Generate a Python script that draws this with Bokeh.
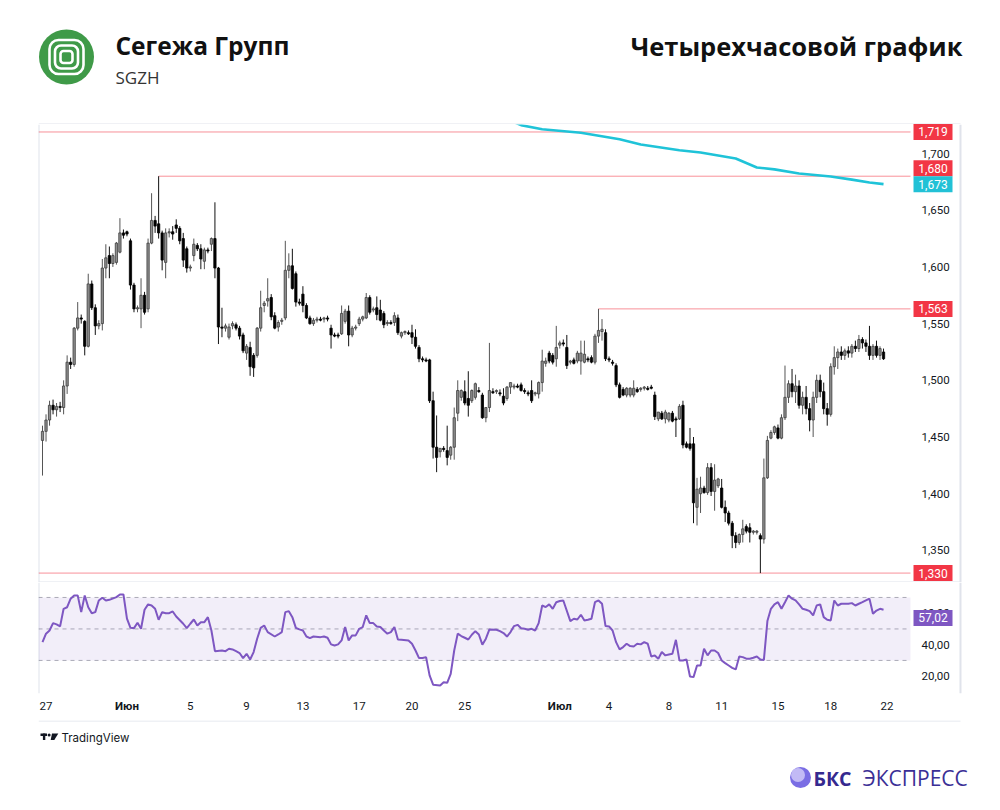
from bokeh.plotting import figure
from bokeh.layouts import column
from bokeh.models import ColumnDataSource, Range1d, FixedTicker, BoxAnnotation, LinearAxis
from bokeh.embed import file_html
from bokeh.resources import INLINE
from bokeh.core.properties import value

# ---------------- data (4h candles, SGZH) ----------------
opens = [1447,1455,1465,1478,1474,1477,1476,1495,1516,1514,1546,1555,1552,1530,1585,1564,1548,1550,1599,1610,
         1603,1604,1613,1630,1631,1623,1584,1563,1563,1575,1563,1621,1641,1638,1630,1604,1630,1631,1637,1634,
         1625,1616,1599,1610,1619,1616,1605,1615,1620,1625,1599,1547,1546,1538,1548,1549,1546,1540,1524,1529,
         1522,1522,1546,1566,1570,1573,1557,1547,1552,1555,1597,1601,1594,1569,1576,1566,1555,1550,1553,1554,
         1554,1555,1546,1540,1540,1541,1552,1561,1540,1546,1550,1554,1555,1573,1562,1564,1562,1559,1550,1551,
         1551,1555,1539,1542,1542,1542,1538,1529,1519,1518,1518,1482,1441,1437,1440,1438,1434,1441,1471,1485,
         1490,1484,1482,1485,1491,1487,1467,1476,1490,1490,1489,1486,1484,1494,1494,1495,1496,1491,1489,1491,
         1488,1488,1498,1515,1524,1522,1519,1531,1533,1529,1516,1518,1517,1517,1516,1519,1520,1516,1539,1543,
         1542,1519,1516,1513,1496,1492,1487,1487,1487,1492,1492,1493,1493,1494,1487,1466,1471,1466,1465,1471,
         1466,1466,1478,1444,1444,1444,1388,1400,1405,1401,1423,1402,1407,1405,1388,1383,1374,1363,1357,1364,
         1371,1370,1366,1366,1363,1360,1414,1449,1454,1458,1449,1467,1485,1497,1490,1495,1478,1485,1475,1465,
         1485,1500,1490,1475,1470,1512,1520,1525,1522,1526,1524,1530,1528,1536,1533,1530,1522,1530,1522,1525]
highs = [1460,1470,1482,1483,1480,1481,1500,1522,1520,1547,1569,1558,1553,1594,1588,1567,1553,1607,1620,1618,
         1612,1622,1643,1633,1632,1625,1586,1566,1590,1578,1625,1665,1645,1680,1632,1634,1634,1636,1642,1636,
         1630,1618,1602,1625,1621,1620,1617,1617,1626,1657,1600,1564,1550,1550,1552,1551,1548,1542,1532,1534,
         1524,1547,1579,1570,1590,1576,1560,1553,1555,1623,1612,1616,1596,1572,1583,1568,1557,1555,1556,1556,
         1556,1557,1549,1542,1542,1566,1563,1566,1548,1549,1556,1557,1577,1575,1565,1574,1571,1561,1553,1553,
         1560,1558,1543,1544,1544,1549,1545,1531,1521,1520,1519,1490,1469,1440,1442,1460,1442,1476,1500,1492,
         1500,1508,1492,1498,1494,1489,1476,1533,1493,1492,1492,1493,1495,1498,1497,1497,1498,1493,1491,1500,
         1490,1499,1527,1520,1526,1524,1548,1535,1536,1540,1518,1520,1526,1535,1535,1521,1522,1541,1563,1554,
         1545,1521,1518,1515,1498,1494,1494,1494,1500,1494,1494,1495,1495,1496,1490,1472,1473,1474,1472,1473,
         1468,1479,1482,1446,1458,1450,1414,1415,1407,1427,1427,1426,1414,1413,1394,1385,1376,1366,1365,1377,
         1373,1374,1368,1368,1365,1431,1451,1456,1460,1461,1470,1513,1500,1510,1505,1500,1490,1495,1480,1490,
         1505,1505,1498,1480,1515,1530,1528,1530,1528,1530,1532,1535,1540,1538,1536,1548,1532,1535,1530,1528]
lows = [1416,1446,1460,1470,1468,1472,1470,1488,1510,1512,1544,1550,1522,1529,1562,1540,1545,1544,1590,1590,
        1600,1602,1612,1625,1627,1580,1560,1560,1546,1558,1560,1620,1630,1625,1597,1590,1626,1624,1630,1620,
        1600,1595,1596,1605,1614,1598,1598,1612,1614,1590,1532,1538,1543,1536,1545,1544,1536,1524,1518,1504,
        1503,1520,1543,1560,1565,1553,1545,1543,1549,1553,1590,1580,1565,1566,1560,1554,1549,1548,1551,1552,
        1551,1552,1528,1538,1537,1540,1550,1530,1538,1544,1548,1552,1554,1558,1560,1553,1552,1546,1548,1549,
        1548,1540,1537,1540,1540,1532,1528,1516,1516,1516,1480,1431,1419,1432,1437,1425,1430,1430,1464,1482,
        1478,1468,1480,1483,1489,1466,1463,1472,1488,1488,1486,1478,1482,1488,1492,1493,1490,1488,1486,1480,
        1486,1484,1490,1512,1515,1514,1512,1528,1530,1510,1514,1514,1515,1505,1515,1516,1515,1514,1533,1535,
        1517,1516,1513,1494,1484,1486,1485,1485,1485,1489,1490,1491,1491,1492,1465,1464,1465,1462,1463,1463,
        1450,1465,1440,1440,1438,1374,1372,1383,1400,1399,1398,1385,1405,1387,1375,1372,1352,1352,1355,1357,
        1365,1357,1364,1364,1330,1356,1413,1448,1452,1448,1448,1465,1480,1485,1480,1475,1470,1470,1455,1450,
        1480,1485,1470,1460,1468,1505,1510,1518,1518,1520,1520,1525,1525,1528,1525,1518,1518,1520,1518,1518]
closes = [1455,1465,1478,1474,1477,1476,1495,1516,1514,1546,1555,1554,1530,1585,1564,1548,1550,1599,1608,1603,
          1610,1621,1630,1628,1629,1584,1563,1564,1575,1560,1621,1641,1636,1630,1606,1630,1631,1629,1634,1623,
          1606,1599,1600,1620,1616,1607,1615,1614,1625,1599,1547,1546,1548,1547,1550,1546,1539,1526,1530,1512,
          1511,1546,1564,1568,1572,1556,1546,1551,1553,1597,1601,1581,1569,1568,1566,1555,1550,1553,1554,1553,
          1555,1554,1540,1539,1539,1559,1561,1540,1546,1547,1554,1556,1573,1560,1563,1558,1553,1549,1551,1550,
          1557,1542,1542,1543,1541,1538,1530,1519,1518,1517,1482,1441,1432,1440,1439,1432,1441,1467,1491,1491,
          1480,1478,1491,1497,1490,1467,1476,1491,1489,1491,1488,1480,1494,1498,1495,1494,1491,1490,1488,1482,
          1489,1498,1517,1517,1517,1516,1529,1533,1532,1513,1517,1515,1524,1524,1523,1518,1516,1539,1544,1545,
          1519,1518,1515,1496,1485,1487,1493,1493,1493,1490,1493,1494,1492,1493,1468,1472,1466,1472,1471,1464,
          1465,1477,1443,1441,1440,1392,1404,1405,1401,1423,1402,1412,1413,1388,1383,1374,1363,1357,1364,1369,
          1367,1366,1367,1367,1360,1414,1447,1454,1459,1449,1467,1485,1497,1490,1495,1478,1485,1475,1465,1485,
          1500,1490,1475,1470,1512,1520,1525,1522,1526,1524,1530,1528,1536,1533,1530,1522,1530,1522,1528,1519]
bars = list(range(len(closes)))

rsi_bar = [0,1,2,3,4,5,6,7,8,9,10,11,12,13,14,15,16,17,18,19,21,22,23,24,25,26,27,28,29,30,31,32,33,34,35,36,37,38,
           40,41,42,43,44,45,46,47,48,49,51,52,53,54,55,56,57,58,59,60,61,62,63,64,66,67,68,69,70,71,72,73,74,75,
           76,77,79,80,81,82,83,84,85,86,87,88,89,90,91,92,93,94,95,96,97,98,99,100,101,102,104,105,106,107,108,
           109,110,111,113,114,115,116,117,118,119,120,121,122,123,124,125,126,127,129,130,131,132,133,134,135,
           136,137,138,139,140,141,142,143,144,145,146,147,148,150,151,152,153,154,155,156,157,158,159,160,161,
           162,163,164,165,166,167,168,169,170,171,172,173,174,175,176,177,178,179,180,181,182,183,184,185,186,
           187,188,189,190,191,192,193,194,195,196,197,198,199,200,201,202,203,204,205,206,207,208,209,210,211,
           212,213,214,215,216,217,218,219,220,221,222,223,224,225,226,227,228,229,230,231,232,233,234,235,236,
           237,238,239]
rsi_val = [41.6,47.0,49.0,53.7,52.9,51.6,62.8,63.8,69.2,71.3,71.3,60.7,71.3,63.8,60.0,60.7,68.1,69.8,68.1,68.5,
           70.2,71.9,71.9,56.5,50.7,50.5,53.9,50.1,62.2,65.6,64.9,62.8,55.8,60.7,60.0,60.0,61.1,57.9,
           53.3,50.5,53.3,56.0,52.2,54.3,54.3,57.5,49.0,35.9,36.3,35.9,37.4,37.0,35.9,34.7,31.5,34.2,30.6,35.3,
           43.8,50.7,52.2,48.0,45.2,46.5,48.0,60.7,61.3,57.5,50.7,49.7,49.0,45.2,
           44.2,45.2,44.8,45.2,44.4,40.2,39.5,40.2,42.7,51.2,42.7,45.9,45.9,50.1,51.2,58.6,53.7,53.7,51.6,51.2,
           49.0,47.0,48.0,51.2,43.3,43.1,42.7,40.6,36.3,31.5,31.5,32.1,20.5,14.6,14.1,16.2,15.8,21.5,36.3,47.0,
           45.5,44.4,43.3,46.3,48.6,46.5,40.0,43.8,49.7,49.5,48.6,47.4,45.2,48.0,51.8,52.6,50.5,50.1,49.5,50.1,
           49.0,53.7,64.9,63.9,65.6,62.8,67.0,67.7,68.1,55.0,56.5,56.0,59.0,55.4,55.8,56.5,67.0,68.1,66.0,51.8,
           51.6,49.0,41.6,37.0,38.5,40.6,39.1,38.9,40.6,40.2,41.6,40.6,32.5,33.2,31.1,35.3,33.2,33.8,34.2,43.1,
           30.0,30.0,30.6,19.8,19.4,26.8,26.8,37.4,33.2,36.3,36.3,34.7,30.0,28.3,26.8,25.3,24.3,32.5,32.1,31.1,
           31.1,31.7,32.5,30.6,30.3,55.0,62.8,65.6,67.0,62.8,67.0,71.3,69.2,68.1,65.6,62.8,62.2,61.3,58.6,64.9,
           65.6,57.5,55.8,55.4,68.1,64.9,66.0,66.0,66.0,66.4,64.9,66.0,67.0,68.1,69.2,59.6,61.7,62.8,62.2,57.02]

ma_bar = [133,136,142,153,164,170,181,187,197,203,208,215,224,230,235,239]
ma_val = [1729,1725,1721.4,1718.3,1712.6,1707.9,1702.9,1700.9,1695.6,1687.7,1686,1682.4,1679.7,1677,1674.4,1673]

level_price = [1719, 1680, 1563, 1330]
level_from_bar = [None, 33, 158, None]

day_tick_bars = [1, 42, 58, 74, 90, 105, 120, 161, 178, 193, 209, 224, 240]
day_tick_labels = ["27", "5", "9", "13", "17", "20", "25", "4", "8", "11", "15", "18", "22"]
month_tick_bars = [24, 147]
month_tick_labels = ["Июн", "Июл"]
price_ticks = [1350, 1400, 1450, 1500, 1550, 1600, 1650, 1700]
rsi_ticks = [20, 40, 60]
rsi_levels = [70, 50, 30]

# ---------------- layout constants (bar-index space) ----------------
W = 1000
X_START, X_END = -1.137, 272.24       # frame spans the card width right of the left margin
PANE_END = 246.66                      # right edge of the plotting pane (price scale starts there)
BORDER_X = 260.87                      # right border of the chart block
TAG_X = 253.06                         # centre of the price tags
AX_FONT = "Roboto"
RED = "#f23645"
GRID_C = "#e0e3eb"
XR = Range1d(X_START, X_END)


def bare(fig):
    fig.grid.visible = False
    fig.outline_line_color = None


def tag(fig, y, txt, bg, shift=0.0):
    fig.rect(x=[TAG_X], y=[y + shift], width=39, height=16, width_units="screen",
             height_units="screen", fill_color=bg, line_color=None, level="overlay")
    fig.text(x=[TAG_X], y=[y + shift], text=[txt], text_align="center", text_baseline="middle",
             text_color="white", text_font=value(AX_FONT), text_font_size="12px",
             level="overlay")


def style_axis(ax, standoff):
    ax.axis_line_color = None
    ax.major_tick_line_color = None
    ax.minor_tick_line_color = None
    ax.major_tick_out = 0
    ax.major_tick_in = 0
    ax.major_label_standoff = standoff
    ax.major_label_text_font = AX_FONT
    ax.major_label_text_font_size = "11.5px"
    ax.major_label_text_color = "#131722"


# ---------------- header ----------------
hdr = figure(width=W, height=124, x_range=Range1d(38, 1000), y_range=Range1d(124, 0),
             toolbar_location=None, output_backend="svg", x_axis_location=None,
             y_axis_location=None, min_border_left=38, min_border_right=0,
             min_border_top=0, min_border_bottom=0)
bare(hdr)
hdr.circle(x=[66], y=[56.5], radius=27.5, fill_color="#3f9a48", line_color=None)
for sz, rad in [(34, 9), (23, 6), (12, 3)]:
    try:
        hdr.rect(x=[66], y=[56.5], width=sz, height=sz, fill_alpha=0, line_color="white",
                 line_width=2.6, border_radius=rad)
    except Exception:
        hdr.circle(x=[66], y=[56.5], radius=sz / 2, fill_alpha=0, line_color="white", line_width=2.6)
hdr.text(x=[115], y=[45], text=["Сегежа Групп"], text_font=value("Open Sans"), text_font_style="bold",
         text_font_size="24.5px", text_baseline="middle", text_color="#111111")
hdr.text(x=[115], y=[77], text=["SGZH"], text_font=value("Open Sans"), text_font_size="17px",
         text_baseline="middle", text_color="#333333")
hdr.text(x=[962], y=[45], text=["Четырехчасовой график"], text_font=value("Open Sans"),
         text_font_style="bold", text_font_size="25.5px", text_baseline="middle", text_align="right",
         text_color="#111111")
hdr.segment(x0=[38], x1=[960], y0=[123.5], y1=[123.5], line_color=GRID_C, line_width=1)

# ---------------- main price pane ----------------
p = figure(width=W, height=458, x_range=XR, y_range=Range1d(1321.7, 1725.6),
           toolbar_location=None, output_backend="svg", x_axis_location=None,
           y_axis_location="right", min_border_left=38, min_border_right=0,
           min_border_top=0, min_border_bottom=0)
bare(p)
p.yaxis.ticker = FixedTicker(ticks=price_ticks)
p.yaxis.major_label_overrides = {t: f"{t:,}" for t in price_ticks}
style_axis(p.yaxis, -79)

up = [c >= o for o, c in zip(opens, closes)]
src = ColumnDataSource(dict(
    i=bars, h=highs, l=lows,
    top=[max(o, c) for o, c in zip(opens, closes)],
    bottom=[min(o, c) for o, c in zip(opens, closes)],
    fill=["#8f8f8f" if u else "#000000" for u in up],
    line=["#3c3c3c" if u else "#000000" for u in up],
    wick=["#555555" if u else "#111111" for u in up],
))

# chart-block borders
p.segment(x0=[X_START, BORDER_X], x1=[X_START, BORDER_X], y0=[1321.7, 1321.7], y1=[1725.6, 1725.6],
          line_color=GRID_C, line_width=2)
p.segment(x0=[X_START], x1=[BORDER_X], y0=[1321.7], y1=[1321.7], line_color=GRID_C, line_width=2)

for lp, lb in zip(level_price, level_from_bar):
    p.segment(x0=[X_START if lb is None else lb], x1=[PANE_END], y0=[lp], y1=[lp],
              line_color=RED, line_alpha=0.55, line_width=1)

p.segment(x0="i", y0="l", x1="i", y1="h", line_color="wick", line_width=1, source=src)
p.vbar(x="i", width=0.65, top="top", bottom="bottom", fill_color="fill", line_color="line",
       line_width=0.8, source=src)
p.line(ma_bar, ma_val, line_color="#1fc3d8", line_width=2.6)

tag(p, 1719, f"{1719:,}", RED)
tag(p, 1680, f"{1680:,}", RED, 7.0)
tag(p, ma_val[-1], f"{ma_val[-1]:,.0f}", "#22c1d6")
tag(p, 1563, f"{1563:,}", RED)
tag(p, 1330, f"{1330:,}", RED)

# ---------------- RSI pane ----------------
r = figure(width=W, height=138, x_range=XR, y_range=Range1d(9.0, 79.5),
           toolbar_location=None, output_backend="svg", y_axis_location="right",
           x_axis_location="below", min_border_left=38, min_border_right=0,
           min_border_top=0, min_border_bottom=27)
bare(r)
r.segment(x0=[X_START, BORDER_X], x1=[X_START, BORDER_X], y0=[9.0, 9.0], y1=[79.5, 79.5],
          line_color=GRID_C, line_width=2)
r.add_layout(BoxAnnotation(bottom=30, top=70, right=PANE_END, fill_color="#7e57c2", fill_alpha=0.1,
                           line_color=None))
r.segment(x0=[X_START] * 3, x1=[PANE_END] * 3, y0=rsi_levels, y1=rsi_levels, line_color="#787b86",
          line_alpha=0.6, line_dash="4 4", line_width=1)
r.line(rsi_bar, rsi_val, line_color="#7e57c2", line_width=2)
r.yaxis.ticker = FixedTicker(ticks=rsi_ticks)
r.yaxis.major_label_overrides = {t: f"{t:.2f}".replace(".", ",") for t in rsi_ticks}
r.xaxis.ticker = FixedTicker(ticks=day_tick_bars)
r.xaxis.major_label_overrides = {b: s for b, s in zip(day_tick_bars, day_tick_labels)}
style_axis(r.yaxis, -79)
style_axis(r.xaxis, 8)

# month names in bold, on a second axis pulled up onto the same text line
month_axis = LinearAxis(ticker=FixedTicker(ticks=month_tick_bars),
                        major_label_overrides={b: s for b, s in zip(month_tick_bars, month_tick_labels)})
style_axis(month_axis, -14)
month_axis.major_label_text_font_style = "bold"
r.add_layout(month_axis, "below")

tag(r, rsi_val[-1], f"{rsi_val[-1]:.2f}".replace(".", ","), "#7e57c2")

# ---------------- footer ----------------
ftr = figure(width=W, height=90, x_range=Range1d(38, 1000), y_range=Range1d(810, 720),
             toolbar_location=None, output_backend="svg", x_axis_location=None,
             y_axis_location=None, min_border_left=38, min_border_right=0,
             min_border_top=0, min_border_bottom=0)
bare(ftr)
ftr.segment(x0=[38], x1=[960], y0=[720.5], y1=[720.5], line_color=GRID_C, line_width=1)
ftr.quad(left=[40], right=[46.5], top=[733], bottom=[735.6], fill_color="#131722", line_color=None)
ftr.quad(left=[42.4], right=[44.8], top=[733], bottom=[739.5], fill_color="#131722", line_color=None)
ftr.circle(x=[48.6], y=[734.6], radius=1.5, fill_color="#131722", line_color=None)
ftr.patch(x=[51.5, 57.8, 53.8, 50.2], y=[733, 733, 739.5, 739.5], fill_color="#131722", line_color=None)
ftr.text(x=[61], y=[737], text=["TradingView"], text_font=value("Inter"), text_font_size="11.5px",
         text_baseline="middle", text_color="#131722")
ftr.circle(x=[800], y=[777], radius=10.5, fill_color="#7a6de4", line_color=None)
ftr.circle(x=[797.5], y=[774.5], radius=7, fill_color="#cfc8f8", line_color=None, fill_alpha=0.85)
ftr.text(x=[813], y=[777.5], text=["БКС"], text_font=value("Open Sans"), text_font_style="bold",
         text_font_size="19.5px", text_baseline="middle", text_color="#35298f")
ftr.text(x=[862], y=[777.5], text=["ЭКСПРЕСС"], text_font=value("Open Sans"),
         text_font_size="21px", text_baseline="middle", text_color="#3b2f96")

layout = column(hdr, p, r, ftr, spacing=0)
open("out.html", "w").write(file_html(layout, INLINE))
